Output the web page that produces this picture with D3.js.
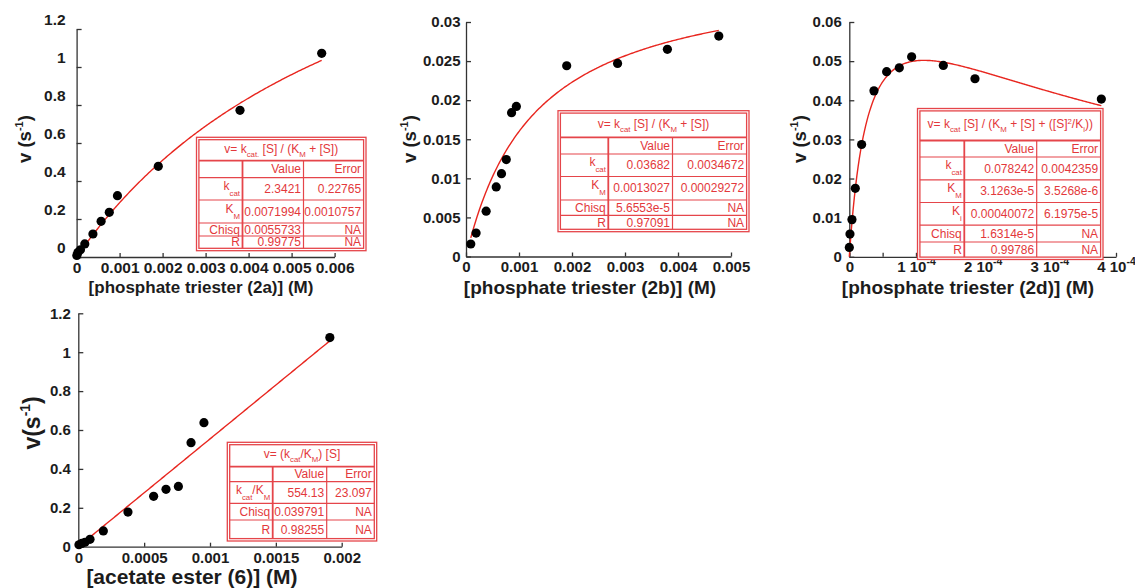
<!DOCTYPE html>
<html>
<head>
<meta charset="utf-8">
<script src="https://cdn.jsdelivr.net/npm/d3@7"></script>
<style>
  body { margin: 0; background: #fff; }
  svg { display: block; font-family: "Liberation Sans", Arial, sans-serif; }
  text { white-space: pre; }
</style>
</head>
<body>
<svg id="chart" width="1135" height="588"></svg>
<script>
// ---------- measured rates ----------
// phosphate triester 2a
const s2a = [0.000005, 0.00003, 0.00009, 0.00019, 0.00038, 0.00057, 0.00076, 0.00095, 0.0019, 0.0038, 0.0057];
const v2a = [0.008, 0.024, 0.038, 0.069, 0.121, 0.188, 0.235, 0.323, 0.477, 0.772, 1.072];
// phosphate triester 2b
const s2b = [0.00009, 0.00019, 0.00038, 0.00057, 0.00067, 0.00076, 0.00086, 0.00095, 0.0019, 0.00286, 0.0038, 0.00477];
const v2b = [0.0016, 0.0030, 0.0058, 0.0089, 0.0106, 0.0124, 0.0184, 0.0192, 0.0244, 0.0247, 0.0265, 0.0282];
// phosphate triester 2d
const s2d = [0, 0.000001, 0.000004, 0.000009, 0.0000185, 0.000037, 0.000056, 0.000075, 0.0000935, 0.000141, 0.0001885, 0.000378];
const v2d = [0.0024, 0.0058, 0.0095, 0.0175, 0.0287, 0.0424, 0.0473, 0.0483, 0.0511, 0.0489, 0.0455, 0.0403];
// acetate ester 6
const s6 = [0.000005, 0.000026, 0.000051, 0.000089, 0.00019, 0.000377, 0.000572, 0.000666, 0.00076, 0.000856, 0.000954, 0.00191];
const v6 = [0.010, 0.017, 0.023, 0.038, 0.081, 0.178, 0.259, 0.295, 0.310, 0.535, 0.6375, 1.075];

// ---------- fitted parameters (value, error) ----------
const kcat2a = [2.3421, 0.22765], km2a = [0.0071994, 0.0010757], chisq2a = 0.0055733, r2a = 0.99775;
const kcat2b = [0.03682, 0.0034672], km2b = [0.0013027, 0.00029272], chisq2b = 5.6553e-5, r2b = 0.97091;
const kcat2d = [0.078242, 0.0042359], km2d = [3.1263e-5, 3.5268e-6], ki2d = [0.00040072, 6.1975e-5], chisq2d = 1.6314e-5, r2d = 0.99786;
const kcatKm6 = [554.13, 23.097], chisq6 = 0.039791, r6 = 0.98255;

// ---------- axis ticks ----------
const yTicks2a = [0, 0.2, 0.4, 0.6, 0.8, 1, 1.2];
const yLabels2a = ["0", "0.2", "0.4", "0.6", "0.8", "1", "1.2"];
const xTicks2a = [0, 0.001, 0.002, 0.003, 0.004, 0.005, 0.006];
const xLabels2a = ["0", "0.001", "0.002", "0.003", "0.004", "0.005", "0.006"];

const yTicks2b = [0, 0.005, 0.01, 0.015, 0.02, 0.025, 0.03];
const yLabels2b = ["0", "0.005", "0.01", "0.015", "0.02", "0.025", "0.03"];
const xTicks2b = [0, 0.001, 0.002, 0.003, 0.004, 0.005];
const xLabels2b = ["0", "0.001", "0.002", "0.003", "0.004", "0.005"];

const yTicks2d = [0, 0.01, 0.02, 0.03, 0.04, 0.05, 0.06];
const yLabels2d = ["0", "0.01", "0.02", "0.03", "0.04", "0.05", "0.06"];
const xTicks2d = [0, 0.00005, 0.0001, 0.00015, 0.0002, 0.00025, 0.0003, 0.00035, 0.0004];
const xLabels2d = ["0", "", "1 10^{-4}", "", "2 10^{-4}", "", "3 10^{-4}", "", "4 10^{-4}"];

const yTicks6 = [0, 0.2, 0.4, 0.6, 0.8, 1, 1.2];
const yLabels6 = ["0", "0.2", "0.4", "0.6", "0.8", "1", "1.2"];
const xTicks6 = [0, 0.0005, 0.001, 0.0015, 0.002];
const xLabels6 = ["0", "0.0005", "0.001", "0.0015", "0.002"];

// ---------- styling ----------
const AXIS = "#333", INK = "#1c1c1c", FIT = "#e8261f", GRID = "#e5454a", TTEXT = "#e3383b";
const FONT = "'Liberation Sans', Arial, sans-serif";

const svg = d3.select("#chart");

// "k_{cat}" -> subscript, "^{-1}" -> superscript
function parseRich(str) {
  const out = [], re = /([_^])\{([^}]*)\}/g;
  let last = 0, m;
  while ((m = re.exec(str))) {
    if (m.index > last) out.push({ t: str.slice(last, m.index), k: "" });
    out.push({ t: m[2], k: m[1] === "_" ? "sub" : "sup" });
    last = re.lastIndex;
  }
  if (last < str.length) out.push({ t: str.slice(last), k: "" });
  return out;
}
function rich(textSel, str, o) {
  textSel.text(null);
  let cur = 0;
  parseRich(str).forEach(s => {
    const target = s.k === "sub" ? o.sub : s.k === "sup" ? -o.sup : 0;
    const ts = textSel.append("tspan").text(s.t);
    if (target !== cur) ts.attr("dy", target - cur);
    if (s.k) ts.style("font-size", o.small + "px");
    cur = target;
  });
}

const fmt = v => typeof v === "string" ? v : (v !== 0 && Math.abs(v) < 1e-4 ? v.toExponential() : String(v));

function drawPanel(p) {
  const g = svg.append("g");
  const x = d3.scaleLinear().domain(p.xDomain).range(p.xRange);
  const y = d3.scaleLinear().domain(p.yDomain).range(p.yRange);

  // x axis
  const gx = g.append("g").attr("transform", `translate(0,${p.yRange[0]})`)
    .call(d3.axisBottom(x).tickValues(p.xTicks).tickSize(-4).tickSizeOuter(0)
      .tickPadding(p.xPad).tickFormat(() => ""));
  gx.selectAll("text").each(function (d, i) {
    rich(d3.select(this), p.xLabels[i], { sub: 0, sup: 7, small: 10.5 });
  });
  // y axis
  const gy = g.append("g").attr("transform", `translate(${p.xRange[0]},0)`)
    .call(d3.axisLeft(y).tickValues(p.yTicks).tickSize(-5).tickSizeOuter(0)
      .tickPadding(p.yPad).tickFormat((d, i) => p.yLabels[i]));
  gy.selectAll("text").attr("transform", `translate(0,${p.yLabelShift || 0})`);

  [gx, gy].forEach(a => {
    a.attr("font-family", null).attr("font-size", null);
    a.select(".domain").attr("stroke", AXIS).attr("stroke-width", 1.3);
    a.selectAll(".tick line").attr("stroke", AXIS).attr("stroke-width", 1.3);
    a.selectAll("text").attr("fill", INK)
      .style("font-size", p.tickFont + "px").style("font-weight", "bold").style("font-family", FONT);
  });

  // axis titles
  const xt = g.append("text").attr("x", p.xTitlePos[0]).attr("y", p.xTitlePos[1])
    .attr("text-anchor", "middle").attr("fill", INK)
    .style("font-weight", "bold").style("font-size", p.xTitleFont + "px");
  rich(xt, p.xTitle, { sub: 0, sup: 7, small: 11 });
  const yt = g.append("text")
    .attr("transform", `translate(${p.yTitlePos[0]},${p.yTitlePos[1]}) rotate(-90)`)
    .attr("text-anchor", "middle").attr("fill", INK)
    .style("font-weight", "bold").style("font-size", p.yTitleFont + "px");
  rich(yt, p.yTitle, { sub: 0, sup: p.yTitleFont * 0.42, small: p.yTitleFont * 0.6 });

  // fitted curve
  const lo = d3.min(p.s), hi = d3.max(p.s);
  const pts = d3.range(0, 201).map(k => lo + (hi - lo) * k / 200);
  g.append("path")
    .datum(pts)
    .attr("fill", "none").attr("stroke", FIT).attr("stroke-width", 1.4)
    .attr("d", d3.line().x(s => x(s)).y(s => y(p.model(s))));

  // data points
  g.append("g").selectAll("circle")
    .data(d3.zip(p.s, p.v))
    .join("circle")
    .attr("cx", d => x(d[0])).attr("cy", d => y(d[1]))
    .attr("r", 4.6).attr("fill", "#000");

  drawTable(g, p.table);
}

function drawTable(g, t) {
  const [x0, y0, x1, y1] = t.box, ins = 2.4;
  const ix0 = x0 + ins, iy0 = y0 + ins, ix1 = x1 - ins, iy1 = y1 - ins;
  const tg = g.append("g");
  tg.append("rect").attr("x", x0).attr("y", y0).attr("width", x1 - x0).attr("height", y1 - y0)
    .attr("fill", "#fff").attr("stroke", GRID).attr("stroke-width", 1.3);
  tg.append("rect").attr("x", ix0).attr("y", iy0).attr("width", ix1 - ix0).attr("height", iy1 - iy0)
    .attr("fill", "none").attr("stroke", GRID).attr("stroke-width", 1.3);
  const bounds = [iy0, ...t.rowLines, iy1];
  t.rowLines.forEach((ry, i) => {
    tg.append("line").attr("x1", ix0).attr("x2", ix1).attr("y1", ry).attr("y2", ry)
      .attr("stroke", GRID).attr("stroke-width", i === 0 ? 1.8 : 1.2);
  });
  t.cols.forEach((cx, i) => {
    tg.append("line").attr("x1", cx).attr("x2", cx).attr("y1", t.rowLines[0]).attr("y2", iy1)
      .attr("stroke", GRID).attr("stroke-width", i === 0 ? 1.8 : 1.2);
  });

  const fs = 12;
  const txt = (xx, yy, anchor) => tg.append("text").attr("x", xx).attr("y", yy)
    .attr("text-anchor", anchor).attr("fill", TTEXT).style("font-size", fs + "px");

  // title row
  const tc = (bounds[0] + bounds[1]) / 2;
  rich(txt((ix0 + ix1) / 2, tc + 2.5, "middle"), t.title, { sub: 4, sup: 4.5, small: 7.8 });

  const colR = [t.cols[0] - 2.5, t.cols[1] - 2.5, ix1 - 2.5];
  const rows = [["", "Value", "Error"], ...t.rows];
  rows.forEach((r, i) => {
    const c = (bounds[i + 1] + bounds[i + 2]) / 2;
    const hasSub = /_\{/.test(r[0]);
    rich(txt(colR[0], hasSub ? c + 1 : c + 4.2, "end"), r[0], { sub: 6, sup: 4, small: 7.8 });
    txt(colR[1], c + 4.2, "end").text(fmt(r[1]));
    txt(colR[2], c + 4.2, "end").text(fmt(r[2]));
  });
}

// ---------- rate laws ----------
const mm = (kc, km) => s => kc * s / (km + s);
const subInhib = (kc, km, ki) => s => kc * s / (km + s + s * s / ki);
const linear = k => s => k * s;

drawPanel({
  s: s2a, v: v2a, model: mm(kcat2a[0], km2a[0]),
  xDomain: [0, 0.006], xRange: [76.6, 334.6], yDomain: [0, 1.2], yRange: [257, 29],
  xTicks: xTicks2a, xLabels: xLabels2a, yTicks: yTicks2a, yLabels: yLabels2a,
  xPad: 4.5, yPad: 11, yLabelShift: -9, tickFont: 15.5,
  xTitle: "[phosphate triester (2a)] (M)", xTitlePos: [201, 293], xTitleFont: 17,
  yTitle: "v (s^{-1})", yTitlePos: [31, 139], yTitleFont: 18.5,
  table: {
    box: [196.5, 137.3, 366, 250.7], cols: [242.5, 303.5], rowLines: [160.7, 177.7, 200, 223, 236],
    title: "v= k_{cat.} [S] / (K_{M} + [S])",
    rows: [["k_{cat}", kcat2a[0], kcat2a[1]], ["K_{M}", km2a[0], km2a[1]], ["Chisq", chisq2a, "NA"], ["R", r2a, "NA"]]
  }
});

drawPanel({
  s: s2b, v: v2b, model: mm(kcat2b[0], km2b[0]),
  xDomain: [0, 0.005], xRange: [466, 731], yDomain: [0, 0.03], yRange: [256.5, 22],
  xTicks: xTicks2b, xLabels: xLabels2b, yTicks: yTicks2b, yLabels: yLabels2b,
  xPad: 4.5, yPad: 5.5, tickFont: 15,
  xTitle: "[phosphate triester (2b)] (M)", xTitlePos: [590, 293.5], xTitleFont: 19,
  yTitle: "v (s^{-1})", yTitlePos: [416, 139], yTitleFont: 18.5,
  table: {
    box: [558, 110.7, 749, 231.7], cols: [608.3, 672.5], rowLines: [137.3, 154, 176.5, 200, 215.3],
    title: "v= k_{cat} [S] / (K_{M} + [S])",
    rows: [["k_{cat}", kcat2b[0], kcat2b[1]], ["K_{M}", km2b[0], km2b[1]], ["Chisq", chisq2b, "NA"], ["R", r2b, "NA"]]
  }
});

drawPanel({
  s: s2d, v: v2d, model: subInhib(kcat2d[0], km2d[0], ki2d[0]),
  xDomain: [0, 0.0004], xRange: [849.3, 1116], yDomain: [0, 0.06], yRange: [256.8, 22],
  xTicks: xTicks2d, xLabels: xLabels2d, yTicks: yTicks2d, yLabels: yLabels2d,
  xPad: 4.5, yPad: 7.5, tickFont: 15,
  xTitle: "[phosphate triester (2d)] (M)", xTitlePos: [968, 293.5], xTitleFont: 19,
  yTitle: "v (s^{-1})", yTitlePos: [806, 139], yTitleFont: 18.5,
  table: {
    box: [917.5, 108.5, 1103, 259.5], cols: [964.3, 1036.7], rowLines: [140.5, 157, 179.8, 202.5, 225.2, 242],
    title: "v= k_{cat} [S] / (K_{M} + [S] + ([S]^{2}/K_{i}))",
    rows: [["k_{cat}", kcat2d[0], kcat2d[1]], ["K_{M}", km2d[0], km2d[1]], ["K_{i}", ki2d[0], ki2d[1]],
           ["Chisq", chisq2d, "NA"], ["R", r2d, "NA"]]
  }
});

drawPanel({
  s: s6, v: v6, model: linear(kcatKm6[0]),
  xDomain: [0, 0.002], xRange: [78.3, 341.7], yDomain: [0, 1.2], yRange: [546.7, 313.3],
  xTicks: xTicks6, xLabels: xLabels6, yTicks: yTicks6, yLabels: yLabels6,
  xPad: 6, yPad: 7.5, tickFont: 15,
  xTitle: "[acetate ester (6)] (M)", xTitlePos: [192, 584], xTitleFont: 21,
  yTitle: "v(s^{-1})", yTitlePos: [40, 423], yTitleFont: 23,
  table: {
    box: [227.3, 442.3, 376.7, 541], cols: [272.7, 326.7], rowLines: [466.7, 481.7, 503.3, 520],
    title: "v= (k_{cat}/K_{M}) [S]",
    rows: [["k_{cat}/K_{M}", kcatKm6[0], kcatKm6[1]], ["Chisq", chisq6, "NA"], ["R", r6, "NA"]]
  }
});
</script>
</body>
</html>
